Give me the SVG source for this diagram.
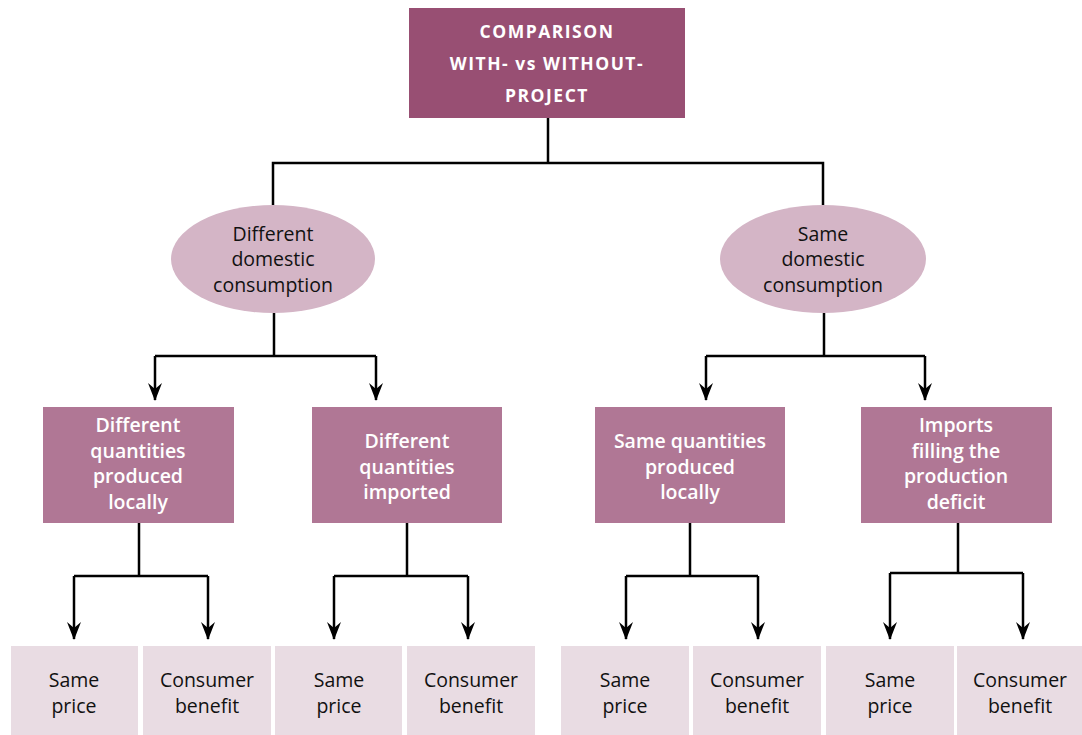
<svg xmlns="http://www.w3.org/2000/svg" width="1082" height="735" viewBox="0 0 1082 735">
<style>
.top{fill:#984F73}
.ell{fill:#D4B5C6}
.mid{fill:#B07795}
.leaf{fill:#E9DCE3}
text{font-family:"Open Sans","DejaVu Sans",sans-serif;font-size:19.5px;text-anchor:middle}
.tt{fill:#fff;font-weight:bold;letter-spacing:1.5px;font-size:17.5px}
.wt{fill:#fff;font-weight:600}
.dk{fill:#111}
.c{fill:none;stroke:#000;stroke-width:2.5}
</style>
<defs>
<marker id="ah" markerWidth="18" markerHeight="14" refX="17" refY="7" orient="auto" markerUnits="userSpaceOnUse" viewBox="0 0 18 14">
<path d="M0,0 L18,7 L0,14 L6,7 Z" fill="#000"/>
</marker>
</defs>
<rect width="1082" height="735" fill="#fff"/>
<g id="connectors">
<path class="c" d="M548,118 V163 M273,205 V163 H823 V205"/>
<path class="c" d="M274,313 V356"/>
<path class="c" d="M155,356 H376"/>
<path class="c" d="M155,356 V400" marker-end="url(#ah)"/>
<path class="c" d="M376,356 V400" marker-end="url(#ah)"/>
<path class="c" d="M824,313 V356"/>
<path class="c" d="M706,356 H925"/>
<path class="c" d="M706,356 V400" marker-end="url(#ah)"/>
<path class="c" d="M925,356 V400" marker-end="url(#ah)"/>
<path class="c" d="M139,523 V576 H74 M139,576 H208"/>
<path class="c" d="M74,576 V639" marker-end="url(#ah)"/>
<path class="c" d="M208,576 V639" marker-end="url(#ah)"/>
<path class="c" d="M407,523 V576 H334 M407,576 H468"/>
<path class="c" d="M334,576 V639" marker-end="url(#ah)"/>
<path class="c" d="M468,576 V639" marker-end="url(#ah)"/>
<path class="c" d="M690,523 V576 H626 M690,576 H758"/>
<path class="c" d="M626,576 V639" marker-end="url(#ah)"/>
<path class="c" d="M758,576 V639" marker-end="url(#ah)"/>
<path class="c" d="M958,523 V573 H890 M958,573 H1023"/>
<path class="c" d="M890,573 V639" marker-end="url(#ah)"/>
<path class="c" d="M1023,573 V639" marker-end="url(#ah)"/>
</g>
<g id="root">
<rect class="top" x="409" y="8" width="276" height="110"/>
<text class="tt" x="547" y="38">COMPARISON</text>
<text class="tt" x="547" y="70">WITH- vs WITHOUT-</text>
<text class="tt" x="547" y="102">PROJECT</text>
</g>
<g id="diffDomestic">
<ellipse class="ell" cx="273" cy="259" rx="102" ry="54"/>
<text class="dk" x="273" y="241">Different</text>
<text class="dk" x="273" y="266">domestic</text>
<text class="dk" x="273" y="292">consumption</text>
</g>
<g id="sameDomestic">
<ellipse class="ell" cx="823" cy="259" rx="103" ry="54"/>
<text class="dk" x="823" y="241">Same</text>
<text class="dk" x="823" y="266">domestic</text>
<text class="dk" x="823" y="292">consumption</text>
</g>
<g id="diffLocal">
<rect class="mid" x="43" y="407" width="191" height="116"/>
<text class="wt" x="138" y="432">Different</text>
<text class="wt" x="138" y="458">quantities</text>
<text class="wt" x="138" y="483">produced</text>
<text class="wt" x="138" y="509">locally</text>
</g>
<g id="diffImported">
<rect class="mid" x="312" y="407" width="190" height="116"/>
<text class="wt" x="407" y="448">Different</text>
<text class="wt" x="407" y="474">quantities</text>
<text class="wt" x="407" y="499">imported</text>
</g>
<g id="sameLocal">
<rect class="mid" x="595" y="407" width="190" height="116"/>
<text class="wt" x="690" y="448">Same quantities</text>
<text class="wt" x="690" y="474">produced</text>
<text class="wt" x="690" y="499">locally</text>
</g>
<g id="importsDeficit">
<rect class="mid" x="861" y="407" width="191" height="116"/>
<text class="wt" x="956" y="432">Imports</text>
<text class="wt" x="956" y="458">filling the</text>
<text class="wt" x="956" y="483">production</text>
<text class="wt" x="956" y="509">deficit</text>
</g>
<g id="leaf1"><rect class="leaf" x="11" y="646" width="127" height="89"/><text class="dk" x="74" y="687">Same</text><text class="dk" x="74" y="713">price</text></g>
<g id="leaf2"><rect class="leaf" x="143" y="646" width="128" height="89"/><text class="dk" x="207" y="687">Consumer</text><text class="dk" x="207" y="713">benefit</text></g>
<g id="leaf3"><rect class="leaf" x="275" y="646" width="127" height="89"/><text class="dk" x="339" y="687">Same</text><text class="dk" x="339" y="713">price</text></g>
<g id="leaf4"><rect class="leaf" x="407" y="646" width="128" height="89"/><text class="dk" x="471" y="687">Consumer</text><text class="dk" x="471" y="713">benefit</text></g>
<g id="leaf5"><rect class="leaf" x="561" y="646" width="128" height="89"/><text class="dk" x="625" y="687">Same</text><text class="dk" x="625" y="713">price</text></g>
<g id="leaf6"><rect class="leaf" x="693" y="646" width="128" height="89"/><text class="dk" x="757" y="687">Consumer</text><text class="dk" x="757" y="713">benefit</text></g>
<g id="leaf7"><rect class="leaf" x="826" y="646" width="128" height="89"/><text class="dk" x="890" y="687">Same</text><text class="dk" x="890" y="713">price</text></g>
<g id="leaf8"><rect class="leaf" x="957" y="646" width="125" height="89"/><text class="dk" x="1020" y="687">Consumer</text><text class="dk" x="1020" y="713">benefit</text></g>
</svg>
